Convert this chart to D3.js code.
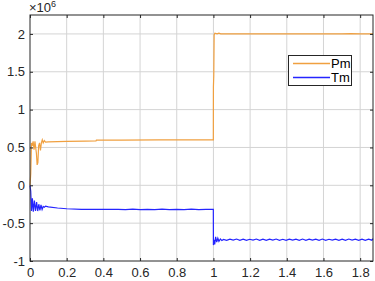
<!DOCTYPE html>
<html><head><meta charset="utf-8">
<script src="https://cdn.jsdelivr.net/npm/d3@7"></script>
<style>body{margin:0;background:#fff}svg{display:block}text{font-family:"Liberation Sans",Arial,sans-serif}</style>
</head><body>
<svg id="c" width="375" height="281"></svg>
<script>
// Data (values in units of 1e6)
const xTicks = [0,0.2,0.4,0.6,0.8,1,1.2,1.4,1.6,1.8];
const xTickLabels = ["0","0.2","0.4","0.6","0.8","1","1.2","1.4","1.6","1.8"];
const yTicks = [-1,-0.5,0,0.5,1,1.5,2];
const yTickLabels = ["-1","-0.5","0","0.5","1","1.5","2"];
const seriesNames = ["Pm","Tm"];
const pmTime = [0,0.004,0.008,0.012,0.017,0.022,0.027,0.031,0.035,0.039,0.043,0.047,0.052,0.057,0.062,0.067,0.072,0.078,0.085,0.1,0.15,0.2,0.3,0.36,0.362,0.5,0.7,0.9,0.9995,1.0,1.002,1.004,1.008,1.02,1.03,1.04,1.1,1.5,1.7,1.75,1.8,1.87];
const pmValue = [0,0.15,0.56,0.52,0.58,0.47,0.58,0.5,0.42,0.27,0.3,0.52,0.56,0.46,0.56,0.6,0.56,0.59,0.57,0.575,0.578,0.58,0.583,0.585,0.597,0.598,0.599,0.6,0.6,1.3,1.45,1.99,2.01,2.0,2.01,2.0,2.0,2.0,2.0,2.005,2.0,2.0];
const tmTime = [0,0.004,0.008,0.013,0.018,0.024,0.03,0.036,0.042,0.048,0.054,0.06,0.066,0.072,0.078,0.085,0.1,0.15,0.2,0.28,0.48,0.52,0.56,0.6,0.64,0.68,0.72,0.76,0.8,0.84,0.88,0.92,0.96,0.9995,1.0,1.003,1.007,1.012,1.018,1.024,1.03,1.038,1.046,1.055,1.072,1.09,1.108,1.126,1.144,1.162,1.18,1.198,1.216,1.234,1.252,1.27,1.288,1.306,1.324,1.342,1.36,1.378,1.396,1.414,1.432,1.45,1.468,1.486,1.504,1.522,1.54,1.558,1.576,1.594,1.612,1.63,1.648,1.666,1.684,1.702,1.72,1.738,1.756,1.774,1.792,1.81,1.828,1.846,1.864,1.87];
const tmValue = [0,-0.08,-0.34,-0.17,-0.35,-0.2,-0.34,-0.22,-0.34,-0.25,-0.33,-0.26,-0.32,-0.28,-0.29,-0.275,-0.285,-0.3,-0.31,-0.318,-0.318,-0.322,-0.316,-0.322,-0.317,-0.322,-0.316,-0.322,-0.317,-0.322,-0.316,-0.322,-0.318,-0.318,-0.79,-0.72,-0.78,-0.68,-0.75,-0.7,-0.74,-0.71,-0.73,-0.715,-0.727,-0.712,-0.725,-0.71,-0.726,-0.712,-0.727,-0.713,-0.725,-0.71,-0.726,-0.712,-0.727,-0.711,-0.725,-0.71,-0.726,-0.713,-0.727,-0.711,-0.725,-0.712,-0.726,-0.71,-0.727,-0.712,-0.725,-0.711,-0.726,-0.71,-0.727,-0.713,-0.725,-0.711,-0.726,-0.712,-0.727,-0.71,-0.725,-0.712,-0.726,-0.711,-0.727,-0.712,-0.725,-0.705];
const colors = ["#F0A040","#2525FF"];

const svg = d3.select("#c");
const L=30, R=373, T=15, B=261;
const x = d3.scaleLinear().domain([0,1.87]).range([L,R]);
const y = d3.scaleLinear().domain([-1,2.25]).range([B,T]);

// grid
const g = svg.append("g");
g.selectAll(".gx").data(xTicks.filter(d=>d>0)).enter().append("line")
 .attr("x1",d=>x(d)).attr("x2",d=>x(d)).attr("y1",T).attr("y2",B)
 .attr("stroke","#d4d4d4").attr("stroke-width",1);
g.selectAll(".gy").data(yTicks.filter(d=>d>-1)).enter().append("line")
 .attr("x1",L).attr("x2",R).attr("y1",d=>y(d)).attr("y2",d=>y(d))
 .attr("stroke","#d4d4d4").attr("stroke-width",1);

// lines
const line = d3.line().x(d=>x(d[0])).y(d=>y(d[1]));
const pm = pmTime.map((t,i)=>[t,pmValue[i]]);
const tm = tmTime.map((t,i)=>[t,tmValue[i]]);
svg.append("path").datum(pm).attr("d",line).attr("fill","none").attr("stroke",colors[0]).attr("stroke-width",1.2);
svg.append("path").datum(tm).attr("d",line).attr("fill","none").attr("stroke",colors[1]).attr("stroke-width",1.2);

// axes
const ax = svg.append("g").attr("transform",`translate(0,${B})`)
 .call(d3.axisBottom(x).tickValues(xTicks).tickFormat((d,i)=>xTickLabels[i]).tickSizeInner(-3).tickSizeOuter(0).tickPadding(7));
const ay = svg.append("g").attr("transform",`translate(${L},0)`)
 .call(d3.axisLeft(y).tickValues(yTicks).tickFormat((d,i)=>yTickLabels[i]).tickSizeInner(-3).tickSizeOuter(0).tickPadding(5));
const ay2 = svg.append("g").attr("transform",`translate(${R},0)`)
 .call(d3.axisRight(y).tickValues(yTicks).tickFormat("").tickSizeInner(-3).tickSizeOuter(0));
const ax2 = svg.append("g").attr("transform",`translate(0,${T})`)
 .call(d3.axisTop(x).tickValues(xTicks).tickFormat("").tickSizeInner(-3).tickSizeOuter(0));
[ax,ay,ax2,ay2].forEach(a=>{
  a.select(".domain").remove();
  a.selectAll("line").attr("stroke","#262626");
  a.selectAll("text").attr("fill","#262626").style("font-size","13px").style("font-family","'Liberation Sans',Arial,sans-serif");
});
svg.append("rect").attr("x",L).attr("y",T).attr("width",R-L).attr("height",B-T)
 .attr("fill","none").attr("stroke","#262626").attr("stroke-width",1);

// exponent
const ex = svg.append("text").attr("x",29).attr("y",12).attr("fill","#262626").style("font-size","13px");
ex.append("tspan").text("×10");
ex.append("tspan").attr("dy",-5).style("font-size","9px").text("6");

// legend
const lg = svg.append("g");
lg.append("rect").attr("x",288.5).attr("y",55.5).attr("width",63).attr("height",30)
 .attr("fill","#fff").attr("stroke","#262626").attr("stroke-width",1);
seriesNames.forEach((n,i)=>{
  const yy = 63.5 + i*14;
  lg.append("line").attr("x1",293).attr("x2",330).attr("y1",yy).attr("y2",yy)
   .attr("stroke",colors[i]).attr("stroke-width",1.5);
  lg.append("text").attr("x",331).attr("y",yy+4.5).attr("fill","#000").style("font-size","13px").text(n);
});
</script>
</body></html>
